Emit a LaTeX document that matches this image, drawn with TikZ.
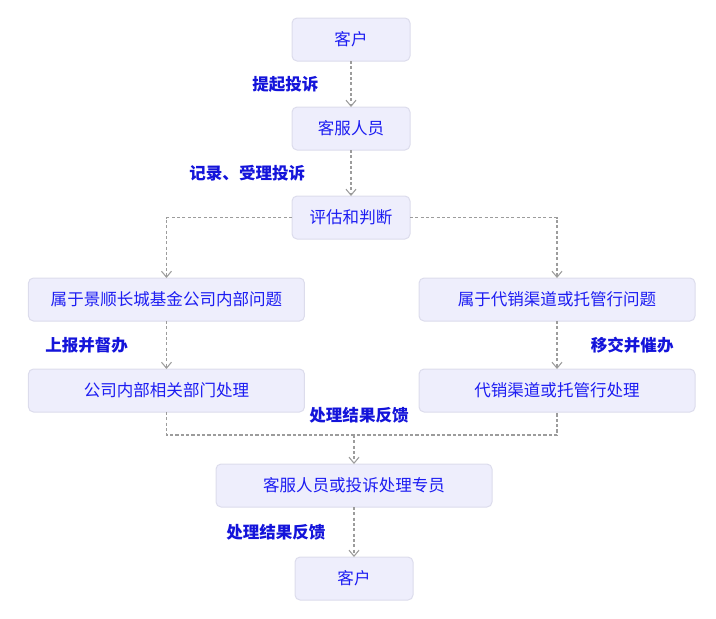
\documentclass[tikz,border=0pt]{standalone}
\usepackage{fontspec}
\newfontfamily\cjk{Noto Sans CJK SC}
\usepackage{tikz}
\usetikzlibrary{arrows.meta,positioning}
\definecolor{boxfill}{HTML}{EEEEFC}
\definecolor{boxline}{HTML}{DCDCEC}
\definecolor{boxtext}{HTML}{1C1CF2}
\definecolor{tagtext}{HTML}{1414DA}
\definecolor{flow}{HTML}{9C9C9C}
\tikzset{
    %Define standard arrow tip
    >={Straight Barb[length=4.5pt,width=7.5pt]},
    %Define style for boxes
    kasten/.style={
           rectangle,
           rounded corners=3.75pt,
           draw=boxline, fill=boxfill, line width=0.75pt,
           outer sep=0pt,
           text=boxtext,
           minimum width=88.5pt,
           minimum height=32.25pt,
           font=\cjk\fontsize{12.4pt}{14pt}\selectfont},
    breit/.style={minimum width=207pt},
    % Define label style
    vermerk/.style={
           text=tagtext,
           inner sep=0pt,
           font=\cjk\bfseries\fontsize{12.4pt}{14pt}\selectfont},
    % Define arrow style
    linie/.style={
           draw=flow,
           dash pattern=on 2.3pt off 1.7pt,
           line width=0.8pt},
    pfeil/.style={
           linie,
           ->}
}
\begin{document}
\begin{tikzpicture}
         \useasboundingbox (0,0) rectangle (537pt,-463.5pt);
         %nodes
          \node[kasten] (kunde) at (263.25pt,-29.625pt) {客户};
          \node[kasten, below=34.5pt of kunde] (service) {客服人员};
          \node[kasten, below=34.5pt of service] (pruefung) {评估和判断};
          \node[kasten, breit, below=29.25pt of pruefung, xshift=-138.4pt]
          (intern) {属于景顺长城基金公司内部问题};
          \node[kasten, breit, below=29.25pt of pruefung, xshift=154.5pt]
          (extern) {属于代销渠道或托管行问题};
          \node[kasten, breit, below=36pt of intern] (abteilung) {公司内部相关部门处理};
          \node[kasten, breit, below=36pt of extern] (kanal) {代销渠道或托管行处理};
          \coordinate (sammel) at (265.5pt,-326.25pt);
          \node[kasten, breit, below=21.75pt of sammel] (beauftragter) {客服人员或投诉处理专员};
          \node[kasten, below=37.5pt of beauftragter] (kunde2) {客户};
         %edges
          \draw[pfeil] (kunde) -- node[vermerk, left=24pt] (anzeige) {提起投诉} (service);
          \draw[pfeil] (service) -- node[vermerk, left=34pt] (annahme) {记录、受理投诉} (pruefung);
          \draw[pfeil] (pruefung.west) -| (intern.north);
          \draw[pfeil] (pruefung.east) -| (extern.north);
          \draw[pfeil] (intern) -- node[vermerk, left=28.5pt] (meldung) {上报并督办} (abteilung);
          \draw[pfeil] (extern) -- node[vermerk, right=25pt] (uebergabe) {移交并催办} (kanal);
          \draw[linie] (abteilung.south) |- (sammel) -| (kanal.south);
          \draw[pfeil] (sammel) -- (beauftragter);
          \node[vermerk, above=9pt of sammel, xshift=3.75pt] (rueckmeldung) {处理结果反馈};
          \draw[pfeil] (beauftragter) -- node[vermerk, left=21pt] (antwort) {处理结果反馈} (kunde2);
        \end{tikzpicture}
\end{document}
